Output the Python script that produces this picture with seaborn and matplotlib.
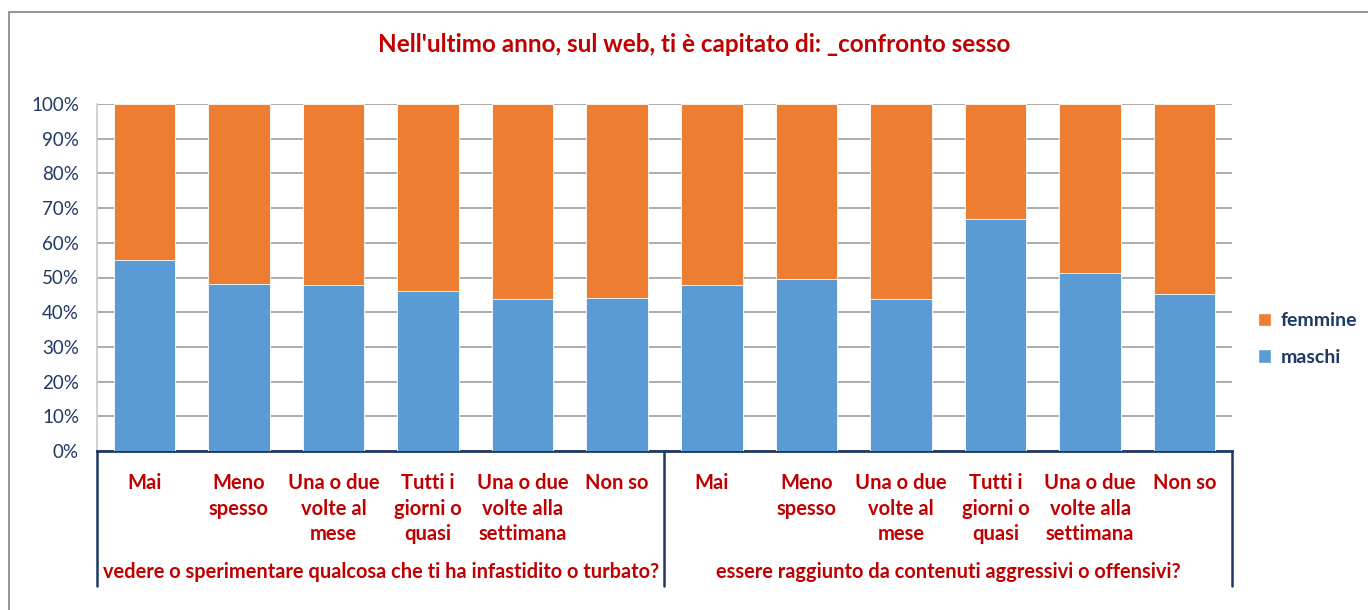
import pandas as pd
import matplotlib
matplotlib.use("Agg")
import matplotlib.pyplot as plt
import matplotlib.transforms as mtransforms
from matplotlib.patches import Patch, Rectangle
import seaborn as sns

# Data (share of "maschi", femmine = 100 - maschi)
categories = ["Mai", "Meno\nspesso", "Una o due\nvolte al\nmese", "Tutti i\ngiorni o\nquasi",
              "Una o due\nvolte alla\nsettimana", "Non so"] * 2
groups = ["vedere o sperimentare qualcosa che ti ha infastidito o turbato?",
          "essere raggiunto da contenuti aggressivi o offensivi?"]
maschi = [55.0, 48.2, 47.8, 46.0, 43.8, 44.2,
          47.8, 49.5, 43.8, 66.9, 51.3, 45.2]
femmine = [100 - m for m in maschi]

pos = [str(i) for i in range(len(categories))]
df = pd.DataFrame({"pos": pos, "maschi": maschi, "femmine": femmine})
df["totale"] = df["maschi"] + df["femmine"]

BLUE = "#5B9BD5"
ORANGE = "#ED7D31"
RED = "#C00000"
NAVY = "#1F3864"

sns.set_style("white")
plt.rcParams["font.family"] = ["Lato", "DejaVu Sans"]

fig = plt.figure(figsize=(13.68, 6.10), dpi=100)
ax = fig.add_axes([97 / 1368, 159 / 610, 1135 / 1368, 347 / 610])

# stacked: full bar in orange, maschi in blue on top of it
sns.barplot(data=df, x="pos", y="totale", order=pos, color=ORANGE, width=0.65,
            saturation=1, edgecolor="white", linewidth=0.6, ax=ax, zorder=3)
sns.barplot(data=df, x="pos", y="maschi", order=pos, color=BLUE, width=0.65,
            saturation=1, edgecolor="white", linewidth=0.6, ax=ax, zorder=4)

ax.set_xlim(-0.5, len(pos) - 0.5)
ax.set_ylim(0, 100)
ax.set_yticks(range(0, 101, 10))
ax.set_yticklabels([f"{v}%" for v in range(0, 101, 10)], fontsize=13.5, color=NAVY)
ax.tick_params(axis="y", length=0, pad=13)
ax.yaxis.grid(True, color="#A6A6A6", linewidth=1.3, zorder=0)
ax.set_axisbelow(True)

ax.set_xticks(range(len(pos)))
ax.set_xticklabels(categories, fontsize=14.5, color=RED, fontweight="bold",
                   linespacing=1.35, va="top")
ax.tick_params(axis="x", length=0, pad=16)
ax.set_xlabel("")
ax.set_ylabel("")

for s in ["top", "right"]:
    ax.spines[s].set_visible(False)
ax.spines["left"].set_color("#C8C8C8")
ax.spines["left"].set_linewidth(1.2)
ax.spines["bottom"].set_color(NAVY)
ax.spines["bottom"].set_linewidth(2)

# group separators and group labels below the axis
trans = mtransforms.blended_transform_factory(ax.transData, ax.transAxes)
for xs in [-0.5, 5.5, 11.5]:
    ax.plot([xs, xs], [0, -135 / 347], color=NAVY, lw=1.8, transform=trans,
            clip_on=False, zorder=5)
for gi, g in enumerate(groups):
    ax.text(gi * 6 + 2.5, -121 / 347, g, transform=trans, ha="center", va="center",
            fontsize=14.4, color=RED, fontweight="bold")

fig.text(694 / 1368, 1 - 45 / 610, "Nell'ultimo anno, sul web, ti è capitato di: _confronto sesso",
         ha="center", va="center", fontsize=17.5, color=RED, fontweight="bold")

handles = [Patch(facecolor=ORANGE, label="femmine"), Patch(facecolor=BLUE, label="maschi")]
leg = fig.legend(handles=handles, loc="center left", bbox_to_anchor=(1240 / 1368, 1 - 339 / 610),
                 frameon=False, handlelength=0.7, handleheight=0.7, handletextpad=0.5,
                 labelspacing=1.0, prop={"size": 14, "weight": "bold"})
for t in leg.get_texts():
    t.set_color(NAVY)

# outer chart frame
fig.patches.append(Rectangle((9 / 1368, -0.05), 1.1, 1.05 - 12 / 610, transform=fig.transFigure,
                             fill=False, edgecolor="#8C8C8C", linewidth=1.3))

fig.savefig("out.png", dpi=100)
